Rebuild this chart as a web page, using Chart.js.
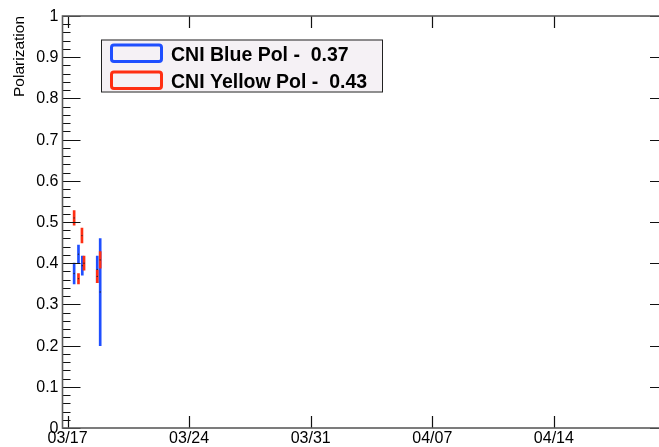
<!DOCTYPE html>
<html>
<head>
<meta charset="utf-8">
<script src="https://cdn.jsdelivr.net/npm/chart.js@4/dist/chart.umd.min.js"></script>
<style>
  html, body { margin: 0; padding: 0; background: #ffffff; overflow: hidden; width: 659px; height: 447px; }
  #wrap { position: relative; width: 672px; height: 447px; }
</style>
</head>
<body>
<div id="wrap"><canvas id="pol" width="672" height="447"></canvas></div>
<script>
// Days counted from 03/17 00:00
const xMinDay = -0.29;
const xMaxDay = 34.57;
const xTickDays = [0, 7, 14, 21, 28];
const xTickLabels = ['03/17', '03/24', '03/31', '04/07', '04/14'];
const yTickValues = [0, 0.1, 0.2, 0.3, 0.4, 0.5, 0.6, 0.7, 0.8, 0.9, 1];
const yTickLabels = ['0', '0.1', '0.2', '0.3', '0.4', '0.5', '0.6', '0.7', '0.8', '0.9', '1'];

// CNI blue ring measurements
const blueDay = [0.38, 0.63, 0.85, 1.71, 1.88];
const bluePol = [0.375, 0.422, 0.394, 0.385, 0.33];
const blueErr = [0.025, 0.022, 0.023, 0.032, 0.13];

// CNI yellow ring measurements
const yellowDay = [0.38, 0.63, 0.83, 0.95, 1.71, 1.88];
const yellowPol = [0.51, 0.3625, 0.467, 0.40, 0.368, 0.408];
const yellowErr = [0.0175, 0.0125, 0.018, 0.017, 0.015, 0.02];

const legendLabels = ['CNI Blue Pol -  0.37', 'CNI Yellow Pol -  0.43'];

const BLUE = '#1f4fff';
const RED = '#ff2e12';

function errorBars(days, vals, errs) {
  return days.map((d, i) => ({ x: d, y: [vals[i] - errs[i], vals[i] + errs[i]] }));
}
function centers(days, vals) {
  return days.map((d, i) => ({ x: d, y: vals[i] }));
}

// Frame, inward ticks, tick labels, axis title and legend box
const rootFrame = {
  id: 'rootFrame',
  afterDraw(chart) {
    const ctx = chart.ctx;
    const a = chart.chartArea;
    const xs = chart.scales.x, ys = chart.scales.y;
    ctx.save();

    // ticks
    ctx.strokeStyle = '#111';
    ctx.lineWidth = 1.2;
    ctx.beginPath();
    for (let k = 0; k <= 50; k++) {
      const v = k * 0.02;
      const py = Math.round(ys.getPixelForValue(v)) + 0.5;
      const len = (k % 5 === 0) ? 18 : 8;
      ctx.moveTo(a.left, py); ctx.lineTo(a.left + len, py);
      ctx.moveTo(a.right, py); ctx.lineTo(a.right - len, py);
    }
    xTickDays.forEach(d => {
      const px = Math.round(xs.getPixelForValue(d)) + 0.5;
      ctx.moveTo(px, a.bottom); ctx.lineTo(px, a.bottom - 12);
      ctx.moveTo(px, a.top); ctx.lineTo(px, a.top + 12);
    });
    ctx.stroke();

    // frame
    ctx.strokeStyle = '#5c5c5c';
    ctx.lineWidth = 1.6;
    ctx.strokeRect(a.left, a.top, a.right - a.left, a.bottom - a.top);

    // tick labels
    ctx.fillStyle = '#000';
    ctx.font = '16px "Liberation Sans", Arial, sans-serif';
    ctx.textAlign = 'right';
    ctx.textBaseline = 'middle';
    yTickValues.forEach((v, i) => {
      ctx.fillText(yTickLabels[i], a.left - 4, ys.getPixelForValue(v) + 0.5);
    });
    ctx.textAlign = 'center';
    ctx.textBaseline = 'top';
    xTickDays.forEach((d, i) => {
      ctx.fillText(xTickLabels[i], xs.getPixelForValue(d), a.bottom + 3);
    });

    // axis title
    ctx.save();
    ctx.translate(24, a.top);
    ctx.rotate(-Math.PI / 2);
    ctx.textAlign = 'right';
    ctx.textBaseline = 'alphabetic';
    ctx.font = '15.5px "Liberation Sans", Arial, sans-serif';
    ctx.fillText('Polarization', 0, 0);
    ctx.restore();

    // legend
    const bx = 101, by = 39.5, bw = 281, bh = 52;
    ctx.fillStyle = '#f5f1f5';
    ctx.fillRect(bx, by, bw, bh);
    ctx.strokeStyle = '#222';
    ctx.lineWidth = 1;
    ctx.strokeRect(bx + 0.5, by + 0.5, bw, bh);
    const colors = [BLUE, RED];
    const rowTop = [45, 72];
    ctx.font = 'bold 19.5px "Liberation Sans", Arial, sans-serif';
    ctx.textAlign = 'left';
    ctx.textBaseline = 'alphabetic';
    legendLabels.forEach((lab, i) => {
      ctx.strokeStyle = colors[i];
      ctx.lineWidth = 3;
      ctx.beginPath();
      ctx.roundRect(111.5, rowTop[i], 50, 16.5, 2.5);
      ctx.stroke();
      ctx.fillStyle = '#000';
      ctx.fillText(lab, 171, rowTop[i] + 16);
    });

    ctx.restore();
  }
};

new Chart(document.getElementById('pol'), {
  type: 'bar',
  data: {
    datasets: [
      // yellow ring drawn above the blue ring where they overlap
      { label: legendLabels[0], data: errorBars(blueDay, bluePol, blueErr), order: 2,
        backgroundColor: BLUE, borderWidth: 0, barThickness: 2 },
      { label: legendLabels[1], data: errorBars(yellowDay, yellowPol, yellowErr), order: 1,
        backgroundColor: RED, borderWidth: 0, barThickness: 2 },
      { type: 'line', data: centers(blueDay, bluePol), showLine: false, order: 0,
        pointRadius: 0.7, pointBackgroundColor: '#223', pointBorderWidth: 0 },
      { type: 'line', data: centers(yellowDay, yellowPol), showLine: false, order: 0,
        pointRadius: 0.7, pointBackgroundColor: '#322', pointBorderWidth: 0 }
    ]
  },
  options: {
    responsive: false,
    animation: false,
    devicePixelRatio: 1,
    grouped: false,
    layout: { padding: { left: 62.5, top: 16, right: 2, bottom: 19 } },
    plugins: { legend: { display: false }, tooltip: { enabled: false } },
    scales: {
      x: { type: 'linear', min: xMinDay, max: xMaxDay, display: false, offset: false },
      y: { min: 0, max: 1, display: false }
    }
  },
  plugins: [rootFrame]
});
</script>
</body>
</html>
